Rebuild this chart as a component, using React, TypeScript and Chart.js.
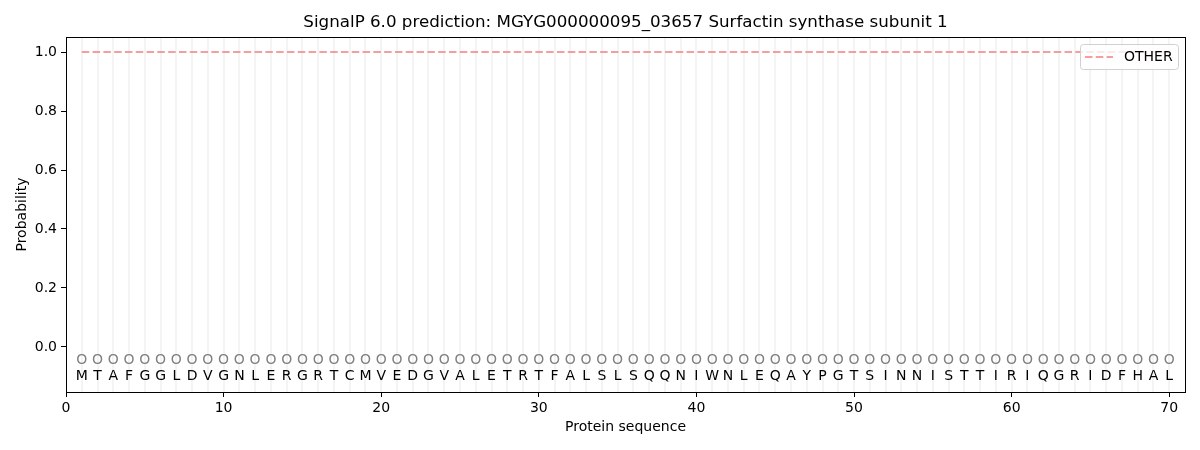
import React, { useEffect, useRef } from "react";
import { Chart, registerables } from "chart.js";

Chart.register(...registerables);

const sequence = "MTAFGGLDVGNLERGRTCMVEDGVALETRTFALSLSQQNIWNLEQAYPGTSINNISTTIRIQGRIDFHAL".split("");
const positions = sequence.map((_, i) => i + 1);
const otherProb = positions.map(() => 1.0);
const xTicks = [0, 10, 20, 30, 40, 50, 60, 70];
const yTicks = [0.0, 0.2, 0.4, 0.6, 0.8, 1.0];
const titleText = "SignalP 6.0 prediction: MGYG000000095_03657 Surfactin synthase subunit 1";
const seriesLabel = "OTHER";
const FONT = "'DejaVu Sans', sans-serif";
const lineColor = "rgba(240,128,128,1)";

const decorPlugin = {
  id: "decor",
  beforeDatasetsDraw(chart: any) {
    const { ctx, chartArea, scales } = chart;
    const x = scales.x;
    ctx.save();
    ctx.strokeStyle = "#f4f4f4";
    ctx.lineWidth = 2;
    for (const p of positions) {
      const px = Math.round(x.getPixelForValue(p));
      ctx.beginPath();
      ctx.moveTo(px, chartArea.top);
      ctx.lineTo(px, chartArea.bottom);
      ctx.stroke();
    }
    ctx.restore();
  },
  afterDatasetsDraw(chart: any) {
    const { ctx, chartArea, scales } = chart;
    const x = scales.x;
    const y = scales.y;
    ctx.save();
    ctx.textAlign = "center";
    ctx.textBaseline = "middle";
    ctx.font = `14px ${FONT}`;
    positions.forEach((p, i) => {
      const px = x.getPixelForValue(p);
      ctx.fillStyle = "#808080";
      ctx.fillText("O", px, y.getPixelForValue(-0.047));
      ctx.fillStyle = "#000";
      ctx.fillText(sequence[i], px, y.getPixelForValue(-0.1));
    });
    // frame
    ctx.strokeStyle = "#000";
    ctx.lineWidth = 1;
    ctx.strokeRect(
      Math.round(chartArea.left) + 0.5,
      Math.round(chartArea.top) + 0.5,
      Math.round(chartArea.right - chartArea.left),
      Math.round(chartArea.bottom - chartArea.top)
    );
    // legend
    const bx = chartArea.right - 105;
    const by = chartArea.top + 7;
    const bw = 98;
    const bh = 25;
    ctx.fillStyle = "rgba(255,255,255,0.8)";
    ctx.strokeStyle = "#d0d0d0";
    ctx.beginPath();
    (ctx as any).roundRect(bx + 0.5, by + 0.5, bw, bh, 3);
    ctx.fill();
    ctx.stroke();
    ctx.strokeStyle = lineColor;
    ctx.lineWidth = 1.5;
    ctx.setLineDash([7.5, 3.3]);
    ctx.beginPath();
    ctx.moveTo(bx + 5, by + bh / 2 + 0.5);
    ctx.lineTo(bx + 33, by + bh / 2 + 0.5);
    ctx.stroke();
    ctx.setLineDash([]);
    ctx.fillStyle = "#000";
    ctx.textAlign = "left";
    ctx.font = `14px ${FONT}`;
    ctx.fillText(seriesLabel, bx + 44, by + bh / 2 + 1);
    ctx.restore();
  },
};

export default function App() {
  const ref = useRef<HTMLCanvasElement | null>(null);
  useEffect(() => {
    document.body.style.margin = "0";
    const canvas = ref.current!;
    const chart = new Chart(canvas, {
      type: "line",
      data: {
        datasets: [
          {
            label: seriesLabel,
            data: positions.map((p, i) => ({ x: p, y: otherProb[i] })),
            borderColor: lineColor,
            borderWidth: 1.5,
            borderDash: [7.5, 3.3],
            pointRadius: 0,
            fill: false,
          },
        ],
      },
      options: {
        animation: false,
        responsive: false,
        devicePixelRatio: 1,
        layout: { padding: { left: 0, right: 15, top: 0, bottom: 0 } },
        plugins: {
          legend: { display: false },
          tooltip: { enabled: false },
          title: {
            display: true,
            fullSize: false,
            text: titleText,
            color: "#000",
            font: { family: FONT, size: 16.7, weight: "normal" },
            padding: { top: 13, bottom: 4 },
          },
        },
        scales: {
          x: {
            type: "linear",
            min: 0,
            max: 71,
            afterBuildTicks: (s: any) => {
              s.ticks = xTicks.map((v) => ({ value: v }));
            },
            afterFit: (s: any) => {
              s.height = 58;
            },
            grid: { drawOnChartArea: false, drawTicks: true, tickLength: 5, color: "#000" },
            border: { display: true, color: "#000" },
            ticks: {
              color: "#000",
              font: { family: FONT, size: 14 },
              padding: 3,
              maxRotation: 0,
              autoSkip: false,
            },
            title: {
              display: true,
              text: "Protein sequence",
              color: "#000",
              font: { family: FONT, size: 14 },
              padding: { top: 2, bottom: 14 },
            },
          },
          y: {
            type: "linear",
            min: -0.153,
            max: 1.051,
            afterBuildTicks: (s: any) => {
              s.ticks = yTicks.map((v) => ({ value: v }));
            },
            afterFit: (s: any) => {
              s.width = 66;
            },
            grid: { drawOnChartArea: false, drawTicks: true, tickLength: 5, color: "#000" },
            border: { display: true, color: "#000" },
            ticks: {
              color: "#000",
              font: { family: FONT, size: 14 },
              padding: 4,
              callback: (v: any) => Number(v).toFixed(1),
            },
            title: {
              display: true,
              text: "Probability",
              color: "#000",
              font: { family: FONT, size: 14 },
              padding: { top: 14, bottom: 6 },
            },
          },
        },
      },
      plugins: [decorPlugin],
    });
    return () => chart.destroy();
  }, []);
  return (
    <div style={{ width: 1200, height: 450 }}>
      <canvas ref={ref} width={1200} height={450} />
    </div>
  );
}
